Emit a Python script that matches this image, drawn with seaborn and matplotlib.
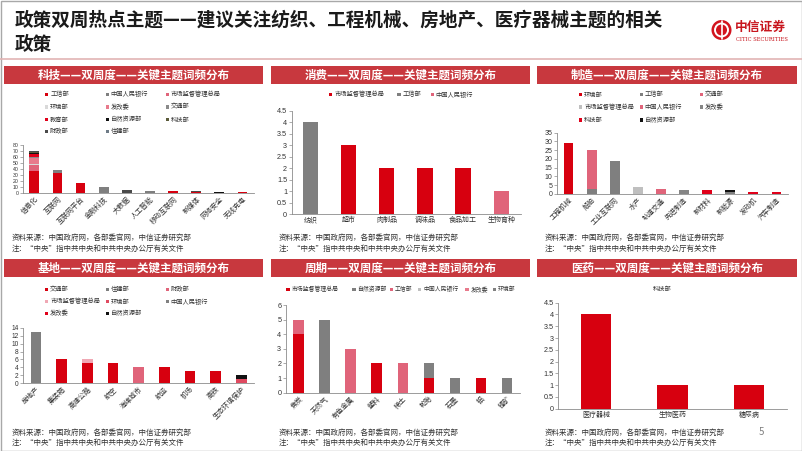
import matplotlib
matplotlib.use("Agg")
import matplotlib.pyplot as plt
import seaborn as sns
import numpy as np
from matplotlib.patches import Rectangle, Circle
from matplotlib.ticker import FuncFormatter

# ---------------- data ----------------
title_line1 = "政策双周热点主题——建议关注纺织、工程机械、房地产、医疗器械主题的相关"
title_line2 = "政策"

tech_title = "科技——双周度——关键主题词频分布"
tech_cats = ["信息化", "互联网", "互联网平台", "金融科技", "大数据", "人工智能", "移动互联网", "新媒体", "网络安全", "无线充电"]
tech_depts = ["工信部", "中国人民银行", "市场监督管理总局", "环境部", "发改委", "交通部", "教育部", "自然资源部", "科技部", "财政部", "住建部"]
tech_gxb = [37, 34, 17, 0, 0, 0, 4, 2, 0, 2]
tech_pboc = [0, 4, 0, 11, 0, 3, 0, 0, 0, 0]
tech_samr = [10, 0, 0, 0, 0, 1, 0, 0, 0, 0]
tech_env = [2, 0, 0, 0, 0, 0, 0, 0, 0, 0]
tech_ndrc = [9, 0, 0, 0, 0, 0, 0, 0, 0, 0]
tech_mot = [2, 0, 0, 0, 0, 0, 0, 0, 0, 0]
tech_moe = [5, 0, 0, 0, 0, 0, 0, 0, 0, 0]
tech_mnr = [2, 0, 0, 0, 1, 0, 0, 0, 2, 0]
tech_most = [1, 0, 0, 0, 0, 0, 0, 0, 0, 0]
tech_mof = [2, 0, 0, 0, 4, 0, 0, 1, 0, 0]
tech_mohurd = [0, 0, 0, 0, 0, 0, 0, 0, 0, 0]

cons_title = "消费——双周度——关键主题词频分布"
cons_cats = ["纺织", "超市", "肉制品", "调味品", "食品加工", "生物育种"]
cons_depts = ["市场监督管理总局", "工信部", "中国人民银行"]
cons_samr = [0, 3, 2, 2, 2, 0]
cons_gxb = [4, 0, 0, 0, 0, 0]
cons_pboc = [0, 0, 0, 0, 0, 1]

mfg_title = "制造——双周度——关键主题词频分布"
mfg_cats = ["工程机械", "船舶", "工业互联网", "水产", "轨道交通", "先进制造", "新材料", "新能源", "发动机", "汽车制造"]
mfg_depts = ["环境部", "工信部", "交通部", "市场监督管理总局", "中国人民银行", "发改委", "科技部", "自然资源部"]
mfg_env = [29, 0, 0, 0, 0, 0, 0, 0, 0, 0]
mfg_gxb = [0, 3, 19, 0, 0, 0, 0, 1, 0, 0]
mfg_mot = [0, 22, 0, 0, 3, 0, 0, 0, 0, 0]
mfg_samr = [0, 0, 0, 4, 0, 0, 0, 0, 0, 0]
mfg_pboc = [0, 0, 0, 0, 0, 0, 0, 0, 0, 0]
mfg_ndrc = [0, 0, 0, 0, 0, 2, 0, 0, 0, 0]
mfg_most = [0, 0, 0, 0, 0, 0, 2, 0, 1, 1]
mfg_mnr = [0, 0, 0, 0, 0, 0, 0, 1, 0, 0]

base_title = "基地——双周度——关键主题词频分布"
base_cats = ["房地产", "集装箱", "高速公路", "航空", "海绵城市", "航运", "机场", "高铁", "生态环境保护"]
base_depts = ["交通部", "住建部", "财政部", "市场监督管理总局", "环境部", "中国人民银行", "发改委", "自然资源部"]
base_mot = [0, 6, 5, 5, 0, 4, 3, 3, 0]
base_mohurd = [13, 0, 0, 0, 0, 0, 0, 0, 0]
base_mof = [0, 0, 0, 0, 4, 0, 0, 0, 0]
base_samr = [0, 0, 1, 0, 0, 0, 0, 0, 0]
base_env = [0, 0, 0, 0, 0, 0, 0, 0, 1]
base_pboc = [0, 0, 0, 0, 0, 0, 0, 0, 0]
base_ndrc = [0, 0, 0, 0, 0, 0, 0, 0, 0]
base_mnr = [0, 0, 0, 0, 0, 0, 0, 0, 1]

cyc_title = "周期——双周度——关键主题词频分布"
cyc_cats = ["焦炭", "天然气", "有色金属", "塑料", "稀土", "轮胎", "石墨", "铝", "锂矿"]
cyc_depts = ["市场监督管理总局", "自然资源部", "工信部", "中国人民银行", "发改委", "环境部"]
cyc_samr = [4, 0, 0, 2, 0, 1, 0, 1, 0]
cyc_mnr = [0, 5, 0, 0, 0, 0, 1, 0, 1]
cyc_gxb = [1, 0, 3, 0, 2, 0, 0, 0, 0]
cyc_pboc = [0, 0, 0, 0, 0, 0, 0, 0, 0]
cyc_ndrc = [0, 0, 0, 0, 0, 0, 0, 0, 0]
cyc_env = [0, 0, 0, 0, 0, 1, 0, 0, 0]

med_title = "医药——双周度——关键主题词频分布"
med_cats = ["医疗器械", "生物医药", "糖尿病"]
med_depts = ["科技部"]
med_most = [4, 1, 1]

source_line1 = "资料来源：中国政府网，各部委官网，中信证券研究部"
source_line2 = "注：“中央”指中共中央和中共中央办公厅有关文件"

# ---------------- style ----------------
RED = "#D7000F"
GRAY = "#7F7F7F"
PINK = "#E0647A"
BLACK = "#111111"
DGRAY = "#4A4A4A"
HEADER = "#C8383E"

W, H = 802, 451
sns.set_theme(style="white")
plt.rcParams['font.family'] = ['Noto Sans CJK SC', 'DejaVu Sans']
plt.rcParams['axes.unicode_minus'] = False

fig = plt.figure(figsize=(W / 100, H / 100), dpi=100)
fig.patch.set_facecolor("white")
bg = fig.add_axes([0, 0, 1, 1])
bg.set_xlim(0, W)
bg.set_ylim(H, 0)
bg.axis('off')


def px_axes(x0, y_top, x1, y_bot):
    ax = fig.add_axes([x0 / W, 1 - y_bot / H, (x1 - x0) / W, (y_bot - y_top) / H])
    ax.patch.set_alpha(0)
    return ax


def stacked(ax, cats, layers, colors, width):
    vals = np.array(layers, dtype=float)
    cum = np.cumsum(vals, axis=0)
    for i in range(len(layers) - 1, -1, -1):
        if vals[: i + 1].sum() == 0:
            continue
        sns.barplot(x=cats, y=cum[i], order=cats, color=colors[i], width=width,
                    saturation=1, errorbar=None, ax=ax, linewidth=0)


def fmt(v, pos):
    return ("%g" % v)


def style(ax, cats, ymax, ystep, xlim, rot, ysize=5.2):
    ax.set_ylim(0, ymax)
    ax.set_yticks(np.arange(0, ymax + 1e-9, ystep))
    ax.yaxis.set_major_formatter(FuncFormatter(fmt))
    ax.set_xlim(*xlim)
    ax.set_xlabel('')
    ax.set_ylabel('')
    for s in ['top', 'right']:
        ax.spines[s].set_visible(False)
    for s in ['left', 'bottom']:
        ax.spines[s].set_color('#8C8C8C')
        ax.spines[s].set_linewidth(0.6)
    ax.tick_params(axis='y', left=True, length=2, width=0.5, color='#8C8C8C',
                   labelsize=ysize, pad=1.2, labelcolor='#333333')
    for t in ax.get_yticklabels():
        t.set_family(["Liberation Sans", "DejaVu Sans"])
    ax.tick_params(axis='x', length=0, labelsize=5, pad=1.5, labelcolor='#333333')
    ax.set_xticks(range(len(cats)))
    if rot:
        ax.set_xticklabels(cats, rotation=45, ha='right', rotation_mode='anchor')
    else:
        ax.set_xticklabels(cats)


def header(x0, x1, y0, y1, text):
    bg.add_patch(Rectangle((x0, y0), x1 - x0, y1 - y0, color=HEADER, lw=0))
    bg.text((x0 + x1) / 2, (y0 + y1) / 2 + 0.5, text, color="white", fontsize=8.3,
            fontweight="bold", ha="center", va="center")


def legend_item(x, y, label, color, fs=4.5):
    bg.add_patch(Rectangle((x - 1.7, y - 1.7), 3.4, 3.4, color=color, lw=0))
    bg.text(x + 3.5, y, label, fontsize=fs, ha="left", va="center", color="#333333")


def sources(x, y1, y2):
    bg.text(x, y1, source_line1, fontsize=5.4, ha="left", va="center", color="#333333")
    bg.text(x, y2, source_line2, fontsize=5.4, ha="left", va="center", color="#333333")


# ---------------- title area ----------------
bg.add_patch(Rectangle((0.5, 0.5), W - 1, H - 1, fill=False, edgecolor="#A8A8A8", lw=1))
bg.text(15, 20, title_line1, fontsize=13.4, fontweight="bold", ha="left", va="center", color="#1A1A1A")
bg.text(15, 45, title_line2, fontsize=13.4, fontweight="bold", ha="left", va="center", color="#1A1A1A")
bg.plot([0, W], [59, 59], color="#E2B4B4", lw=1.2)
bg.add_patch(Circle((721.5, 30), 10, color="#D2141E", lw=0))
bg.add_patch(Circle((721.5, 30), 6.5, fill=False, edgecolor="white", lw=1.4))
bg.plot([721.5, 721.5], [21, 39], color="white", lw=1.2)
bg.text(735, 27, "中信证券", fontsize=9.2, fontweight="bold", ha="left", va="center", color="#C8161E")
bg.text(736, 39.5, "CITIC SECURITIES", fontsize=3.8, ha="left", va="center", color="#C8161E",
        family=["DejaVu Serif"])

# ---------------- panel 1: tech ----------------
header(4, 263, 66, 84, tech_title)
tech_layers = [tech_gxb, tech_pboc, tech_samr, tech_env, tech_ndrc, tech_mot, tech_moe,
               tech_mnr, tech_most, tech_mof, tech_mohurd]
tech_colors = [RED, GRAY, PINK, "#D9D9D9", "#E87A8C", "#8A8A8A", "#E0001A", BLACK, "#5B5B3A", DGRAY, "#6E7B86"]
cols = [46.7, 107.3, 167.3]
rows = [94.3, 107, 119.7, 131.3]
for i, (d, c) in enumerate(zip(tech_depts, tech_colors)):
    legend_item(cols[i % 3], rows[i // 3], d, c)
ax1 = px_axes(22.7, 145, 254, 193.3)
stacked(ax1, tech_cats, tech_layers, tech_colors, 0.42)
style(ax1, tech_cats, 80, 10, (-0.5, 9.5), True, ysize=3.7)
sources(11.5, 237.5, 248.5)

# ---------------- panel 2: consumption ----------------
header(271, 530, 66, 84, cons_title)
cons_layers = [cons_samr, cons_gxb, cons_pboc]
cons_colors = [RED, GRAY, PINK]
for x, d, c in zip([330.7, 399, 432.3], cons_depts, cons_colors):
    legend_item(x, 94.7, d, c)
ax2 = px_axes(291.6, 110.7, 521, 214.3)
stacked(ax2, cons_cats, cons_layers, cons_colors, 0.4)
style(ax2, cons_cats, 4.5, 0.5, (-0.5, 5.52), False)
sources(279, 237.5, 248.5)

# ---------------- panel 3: manufacturing ----------------
header(537, 797, 66, 84, mfg_title)
mfg_layers = [mfg_env, mfg_gxb, mfg_mot, mfg_samr, mfg_pboc, mfg_ndrc, mfg_most, mfg_mnr]
mfg_colors = [RED, GRAY, PINK, "#BFBFBF", "#E0647A", "#858585", "#E0001A", BLACK]
cols3 = [580.7, 641.3, 701.3]
rows3 = [94.7, 107, 120]
for i, (d, c) in enumerate(zip(mfg_depts, mfg_colors)):
    legend_item(cols3[i % 3], rows3[i // 3], d, c)
ax3 = px_axes(557, 132.7, 788, 194)
stacked(ax3, mfg_cats, mfg_layers, mfg_colors, 0.42)
style(ax3, mfg_cats, 35, 5, (-0.5, 9.5), True, ysize=5.0)
sources(545, 237.5, 248.5)

# ---------------- panel 4: base ----------------
header(4, 263, 258.5, 277, base_title)
base_layers = [base_mot, base_mohurd, base_mof, base_samr, base_env, base_pboc, base_ndrc, base_mnr]
base_colors = [RED, GRAY, "#E0647A", "#F0A8B4", "#E04A60", "#808080", "#E0001A", BLACK]
rows4 = [289.3, 301.7, 313.3]
for i, (d, c) in enumerate(zip(base_depts, base_colors)):
    legend_item(cols[i % 3], rows4[i // 3], d, c)
ax4 = px_axes(23.2, 327.7, 254, 383.3)
stacked(ax4, base_cats, base_layers, base_colors, 0.42)
style(ax4, base_cats, 14, 2, (-0.5, 8.5), True, ysize=4.8)
sources(11.5, 432.7, 442.7)

# ---------------- panel 5: cycle ----------------
header(271, 530, 258.5, 277, cyc_title)
cyc_layers = [cyc_samr, cyc_mnr, cyc_gxb, cyc_pboc, cyc_ndrc, cyc_env]
cyc_colors = [RED, GRAY, "#E0647A", "#BFBFBF", "#E87A8C", "#808080"]
for x, d, c in zip([288, 354, 391.3, 419.7, 467, 494.7], cyc_depts, cyc_colors):
    legend_item(x, 289.3, d, c, fs=4.2)
ax5 = px_axes(285.7, 305, 520, 392.7)
stacked(ax5, cyc_cats, cyc_layers, cyc_colors, 0.41)
style(ax5, cyc_cats, 6, 1, (-0.5, 8.5), True)
sources(279, 432.7, 442.7)

# ---------------- panel 6: medicine ----------------
header(537, 797, 258.5, 277, med_title)
bg.text(662.3, 288.5, med_depts[0], fontsize=4.5, ha="center", va="center", color="#333333")
ax6 = px_axes(558, 302.7, 787.2, 408.7)
stacked(ax6, med_cats, [med_most], [RED], 0.4)
style(ax6, med_cats, 4.5, 0.5, (-0.5, 2.5), False)
sources(545, 432.7, 442.7)
bg.text(761, 432, "5", fontsize=7, ha="center", va="center", color="#808080")

fig.savefig("out.png", dpi=100)
